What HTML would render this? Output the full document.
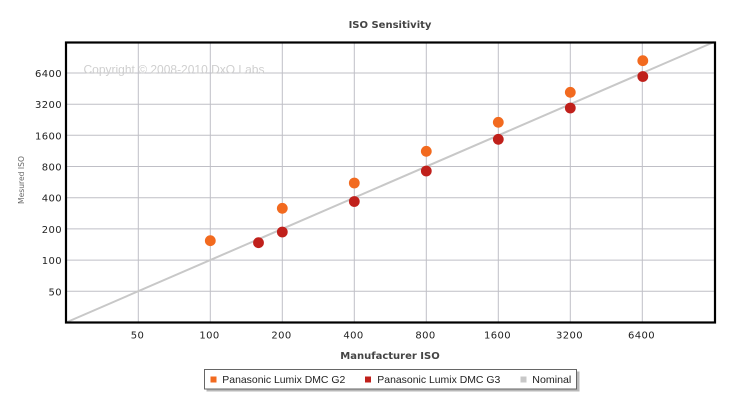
<!DOCTYPE html>
<html><head><meta charset="utf-8"><style>
html,body{margin:0;padding:0;background:#fff;}
svg{display:block;}
</style></head><body>
<svg width="733" height="401" viewBox="0 0 733 401" xmlns="http://www.w3.org/2000/svg">
<rect x="0" y="0" width="733" height="401" fill="#fff"/>
<text x="390" y="28" text-anchor="middle" font-family="DejaVu Sans, Verdana, sans-serif" font-weight="bold" font-size="10" fill="#444">ISO Sensitivity</text>
<g stroke="#bfbfc6" stroke-width="1">
<line x1="138.3" y1="42" x2="138.3" y2="322"/>
<line x1="210.3" y1="42" x2="210.3" y2="322"/>
<line x1="282.3" y1="42" x2="282.3" y2="322"/>
<line x1="354.3" y1="42" x2="354.3" y2="322"/>
<line x1="426.3" y1="42" x2="426.3" y2="322"/>
<line x1="498.3" y1="42" x2="498.3" y2="322"/>
<line x1="570.3" y1="42" x2="570.3" y2="322"/>
<line x1="642.3" y1="42" x2="642.3" y2="322"/>
<line x1="66" y1="73" x2="714" y2="73"/>
<line x1="66" y1="104.2" x2="714" y2="104.2"/>
<line x1="66" y1="135.3" x2="714" y2="135.3"/>
<line x1="66" y1="166.5" x2="714" y2="166.5"/>
<line x1="66" y1="197.7" x2="714" y2="197.7"/>
<line x1="66" y1="228.9" x2="714" y2="228.9"/>
<line x1="66" y1="260.1" x2="714" y2="260.1"/>
<line x1="66" y1="291.3" x2="714" y2="291.3"/>
</g>
<text x="83.5" y="73.5" font-family="Liberation Sans, Arial, sans-serif" font-size="12" fill="#cfcfcf">Copyright © 2008-2010 DxO Labs</text>
<line x1="66" y1="322.5" x2="714" y2="42" stroke="#c8c8c8" stroke-width="2"/>
<g fill="#f26a1f">
<circle cx="210.3" cy="240.7" r="5.4"/>
<circle cx="282.3" cy="208.3" r="5.4"/>
<circle cx="354.3" cy="183" r="5.4"/>
<circle cx="426.3" cy="151.3" r="5.4"/>
<circle cx="498.3" cy="122.3" r="5.4"/>
<circle cx="570.3" cy="92.3" r="5.4"/>
<circle cx="642.8" cy="60.7" r="5.4"/>
</g>
<g fill="#c0201b">
<circle cx="258.5" cy="242.7" r="5.4"/>
<circle cx="282.3" cy="232" r="5.4"/>
<circle cx="354.3" cy="201.5" r="5.4"/>
<circle cx="426.3" cy="171" r="5.4"/>
<circle cx="498.3" cy="139.3" r="5.4"/>
<circle cx="570.3" cy="108" r="5.4"/>
<circle cx="642.8" cy="76.5" r="5.4"/>
</g>
<rect x="66" y="42.5" width="649" height="280" fill="none" stroke="#000" stroke-width="2.2"/>
<g font-family="DejaVu Sans, Verdana, sans-serif" font-size="10" fill="#222" text-anchor="end" letter-spacing="0.4">
<text x="62" y="77">6400</text>
<text x="62" y="108.2">3200</text>
<text x="62" y="139.3">1600</text>
<text x="62" y="170.5">800</text>
<text x="62" y="201.7">400</text>
<text x="62" y="232.9">200</text>
<text x="62" y="264.1">100</text>
<text x="62" y="295.3">50</text>
</g>
<g font-family="DejaVu Sans, Verdana, sans-serif" font-size="10" fill="#222" text-anchor="middle" letter-spacing="0.4">
<text x="137.5" y="338.5">50</text>
<text x="209.5" y="338.5">100</text>
<text x="281.5" y="338.5">200</text>
<text x="353.5" y="338.5">400</text>
<text x="425.5" y="338.5">800</text>
<text x="497.5" y="338.5">1600</text>
<text x="569.5" y="338.5">3200</text>
<text x="641.5" y="338.5">6400</text>
</g>
<text x="390" y="359" text-anchor="middle" font-family="DejaVu Sans, Verdana, sans-serif" font-weight="bold" font-size="10" fill="#444">Manufacturer ISO</text>
<text transform="translate(24,180) rotate(-90)" text-anchor="middle" font-family="DejaVu Sans, Verdana, sans-serif" font-size="7.6" fill="#666">Mesured ISO</text>
<rect x="206.5" y="371.5" width="373" height="20" fill="#b8b8b8"/>
<rect x="204.5" y="369.5" width="372" height="19.5" fill="#fff" stroke="#666" stroke-width="1"/>
<rect x="210.5" y="376.5" width="6" height="6" fill="#f26a1f"/>
<rect x="365" y="376.5" width="6" height="6" fill="#c0201b"/>
<rect x="520.5" y="376.5" width="6" height="6" fill="#c8c8c8"/>
<g font-family="Liberation Sans, Arial, sans-serif" font-size="10.5" fill="#222">
<text x="222.3" y="383" textLength="123" lengthAdjust="spacingAndGlyphs">Panasonic Lumix DMC G2</text>
<text x="377.3" y="383" textLength="123" lengthAdjust="spacingAndGlyphs">Panasonic Lumix DMC G3</text>
<text x="532.3" y="383" textLength="39" lengthAdjust="spacingAndGlyphs">Nominal</text>
</g>
</svg>
</body></html>
